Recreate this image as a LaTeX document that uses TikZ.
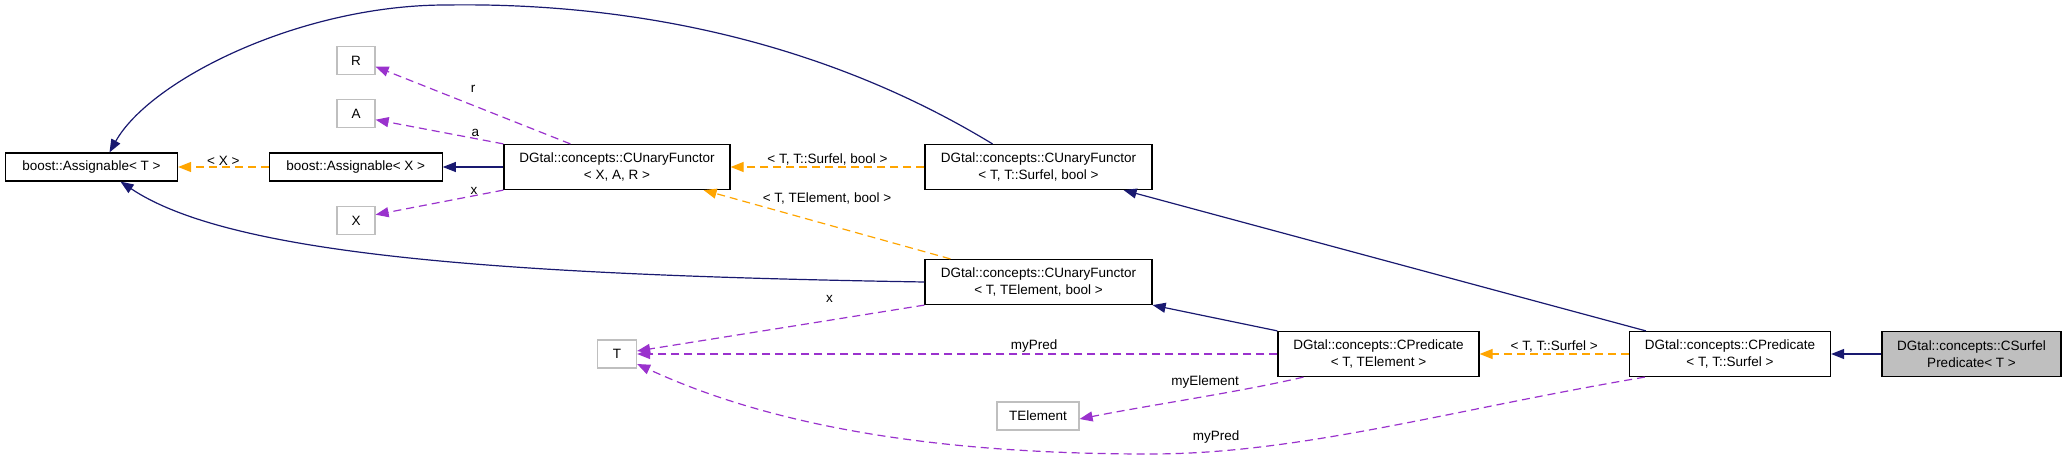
\documentclass[tikz,border=0pt]{standalone}
\usepackage{fontspec}
\setmainfont{Liberation Sans}
\usepackage{tikz}
\usetikzlibrary{arrows.meta,calc}

\definecolor{navyline}{HTML}{191970}
\definecolor{orangeline}{HTML}{FFA500}
\definecolor{purpleline}{HTML}{9A32CD}
\definecolor{greybox}{HTML}{BFBFBF}

\begin{document}
\begin{tikzpicture}[x=1pt, y=-1pt,
      font=\fontsize{13.5}{16.7}\selectfont,
      classbox/.style={draw=black, line width=1.2pt, fill=white, minimum height=45pt, inner sep=2pt, align=center},
      smallbox/.style={draw=black, line width=1.2pt, fill=white, minimum height=28pt, inner sep=2pt, align=center},
      typebox/.style={draw=greybox, line width=1.2pt, fill=white, minimum height=28pt, inner sep=2pt, align=center},
      inherit/.style={-{Triangle[length=13pt, width=10pt]}, navyline, line width=1.2pt},
      templ/.style={-{Triangle[length=13pt, width=10pt]}, orangeline, line width=1.2pt, dash pattern=on 8pt off 5pt},
      member/.style={-{Triangle[length=13pt, width=10pt]}, purpleline, line width=1.2pt, dash pattern=on 8pt off 5pt},
      edgelabel/.style={inner sep=1pt, text=black}
    ]
    \useasboundingbox (0,0) rectangle (2067,460);

    \node[smallbox, minimum width=172pt] (assignT) at (91.5,167) {boost::Assignable< T >};
    \node[smallbox, minimum width=173pt] (assignX) at (355.7,167) {boost::Assignable< X >};
    \node[classbox, minimum width=226pt] (cufXAR) at (617,167) {DGtal::concepts::CUnaryFunctor\\< X, A, R >};
    \node[typebox, minimum width=38pt] (nR) at (356,60.7) {R};
    \node[typebox, minimum width=38pt] (nA) at (356,113.7) {A};
    \node[typebox, minimum width=38pt] (nX) at (356,220.7) {X};
    \node[classbox, minimum width=227pt] (cufSurfel) at (1038.5,167) {DGtal::concepts::CUnaryFunctor\\< T, T::Surfel, bool >};
    \node[classbox, minimum width=227pt] (cufElem) at (1038.5,282) {DGtal::concepts::CUnaryFunctor\\< T, TElement, bool >};
    \node[typebox, minimum width=39pt] (nT) at (617,354) {T};
    \node[typebox, minimum width=82pt] (nTElement) at (1038,416) {TElement};
    \node[classbox, minimum width=201pt] (predElem) at (1378.5,354) {DGtal::concepts::CPredicate\\< T, TElement >};
    \node[classbox, minimum width=201pt] (predSurfel) at (1730,354) {DGtal::concepts::CPredicate\\< T, T::Surfel >};
    \node[classbox, minimum width=179pt, fill=greybox] (surfelPred) at (1971.5,354) {DGtal::concepts::CSurfel\\Predicate< T >};

    % inheritance
    \draw[inherit] (surfelPred) -- (predSurfel);
    \draw[inherit] ([xshift=17pt]predSurfel.north west) -- ([xshift=-29pt]cufSurfel.south east);
    \draw[inherit] (predElem.north west) -- (cufElem.south east);
    \draw[inherit] (cufXAR) -- (assignX);
    \draw[inherit] ([xshift=-46pt]cufSurfel.north) .. controls (830,45) and (640,2) .. (446,5)
                   .. controls (300,5) and (150,80) .. ([xshift=18pt]assignT.north);
    \draw[inherit] (cufElem.west) .. controls (500,275) and (230,255) .. ([xshift=29pt]assignT.south);

    % template instances
    \draw[templ] (assignX) -- node[edgelabel, above] {< X >} (assignT);
    \draw[templ] (cufSurfel) -- node[edgelabel, above] {< T, T::Surfel, bool >} (cufXAR);
    \draw[templ] ([xshift=26pt]cufElem.north west) -- node[edgelabel, midway, yshift=26pt] {< T, TElement, bool >} ([xshift=-27pt]cufXAR.south east);
    \draw[templ] (predSurfel) -- node[edgelabel, above] {< T, T::Surfel >} (predElem);

    % members
    \draw[member] ([xshift=67pt]cufXAR.north west) -- node[edgelabel, midway, yshift=16pt] {r} ([yshift=-6pt]nR.east);
    \draw[member] (cufXAR.north west) -- node[edgelabel, pos=0.22, above] {a} ([yshift=-6pt]nA.east);
    \draw[member] (cufXAR.south west) -- node[edgelabel, pos=0.23, above] {x} ([yshift=6pt]nX.east);
    \draw[member] (cufElem.south west) -- node[edgelabel, pos=0.33, yshift=21pt] {x} ([yshift=3pt]nT.east);
    \draw[member] (predElem) -- node[edgelabel, pos=0.38, above] {myPred} (nT);
    \draw[member] ([xshift=26pt]predElem.south west) .. controls (1240,392) and (1150,405) .. node[edgelabel, pos=0.3, above left] {myElement} ([yshift=-3pt]nTElement.east);
    \draw[member] ([xshift=16pt]predSurfel.south west) .. controls (1450,410) and (1300,454) .. (1150,454)
                  .. controls (950,454) and (780,430) .. ([yshift=-10pt]nT.east);
    \node[edgelabel] (lblPred) at (1216,436.7) {myPred};
\end{tikzpicture}
\end{document}
